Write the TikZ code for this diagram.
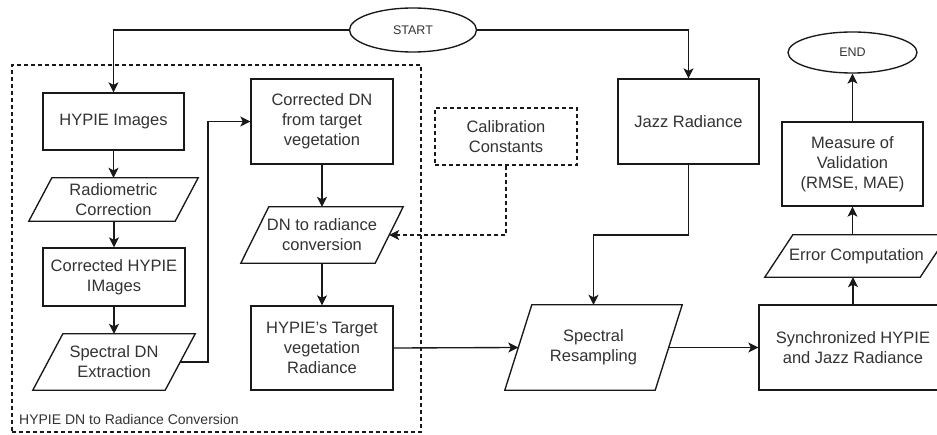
\documentclass[tikz,border=0pt]{standalone}
\usepackage{fontspec}
\setmainfont{Liberation Sans}
\usetikzlibrary{shapes.geometric,arrows.meta}
\newcommand\drawpara[2]{\draw[ln] ([xshift=#2]#1.north west) -- (#1.north east) -- ([xshift=-#2]#1.south east) -- (#1.south west) -- cycle;}
\begin{document}
\begin{tikzpicture}[x=1pt,y=-1pt,
  ln/.style={draw=black!90, line width=1.35pt},
  txt/.style={text=black!80, align=center, inner sep=0pt, font=\fontsize{16.5}{20}\selectfont},
  box/.style={txt, ln, rectangle},
  dbox/.style={box, line width=1.2pt, dash pattern=on 4pt off 3pt},
  pbox/.style={txt, rectangle},
  term/.style={txt, ln, ellipse, font=\fontsize{12.5}{15}\selectfont},
  arr/.style={ln, -{Stealth[length=10pt,width=10pt,inset=2.5pt]}},
  darr/.style={arr, line width=1.2pt, dash pattern=on 4pt off 3pt},
  grp/.style={draw=black!90, line width=1.2pt, dash pattern=on 4pt off 3pt, rectangle, inner sep=0pt}
]
\useasboundingbox[fill=white] (0,0) rectangle (937,435);

% group frame
\node[grp, minimum width=409pt, minimum height=367pt] (grp) at (216.5,248.5) {};
\node[txt, anchor=west, font=\fontsize{14}{16}\selectfont] (grplabel) at (19,419) {HYPIE DN to Radiance Conversion};

% terminals
\node[term, minimum width=127pt, minimum height=44pt] (start) at (413,30) {START};
\node[term, minimum width=129pt, minimum height=41pt] (end) at (852.5,52.5) {END};

% left column
\node[box, minimum width=141pt, minimum height=57pt] (hyp) at (113.5,121.5) {HYPIE Images};
\node[pbox, minimum width=169pt, minimum height=43pt] (rad) at (113.5,199.5) {Radiometric\\Correction};
\node[box, minimum width=142pt, minimum height=58pt] (chyp) at (114,277) {Corrected HYPIE\\IMages};
\node[pbox, minimum width=162pt, minimum height=56pt] (sdn) at (114,362) {Spectral DN\\Extraction};

% second column
\node[box, minimum width=142pt, minimum height=85pt] (cdn) at (322,121.5) {Corrected DN\\from target\\vegetation};
\node[pbox, minimum width=162pt, minimum height=56pt] (dnc) at (322,235) {DN to radiance\\conversion};
\node[box, minimum width=142pt, minimum height=84pt] (tgt) at (322,348) {HYPIE's Target\\vegetation\\Radiance};

% calibration
\node[dbox, minimum width=142pt, minimum height=57pt] (cal) at (506,136.5) {Calibration\\Constants};

% right part
\node[box, minimum width=141pt, minimum height=85pt] (jazz) at (688.5,121.5) {Jazz Radiance};
\node[pbox, minimum width=177pt, minimum height=85pt] (sres) at (593.5,347.5) {Spectral\\Resampling};
\node[box, minimum width=188pt, minimum height=85pt] (sync) at (853,347.5) {Synchronized HYPIE\\and Jazz Radiance};
\node[pbox, minimum width=183pt, minimum height=42pt] (err) at (856.5,256) {Error Computation};
\node[box, minimum width=141pt, minimum height=84pt] (meas) at (852.5,164) {Measure of\\Validation\\(RMSE, MAE)};

% parallelogram outlines
\drawpara{rad}{23pt}
\drawpara{sdn}{30pt}
\drawpara{dnc}{28pt}
\drawpara{sres}{27pt}
\drawpara{err}{28pt}

% connectors
\coordinate (kink) at (223,0);
\draw[arr] (start.west) -| (hyp.north);
\draw[arr] (start.east) -| (jazz.north);
\draw[arr] (hyp.south) -- (rad.north -| hyp.south);
\draw[arr] (rad.south -| chyp.north) -- (chyp.north);
\draw[arr] (chyp.south) -- (sdn.north);
\draw[arr] ([xshift=-15pt]sdn.east) -- ([xshift=-15pt]sdn.east -| kink) |- (cdn.west);
\draw[arr] (cdn.south) -- (dnc.north);
\draw[arr] (dnc.south) -- (tgt.north);
\draw[darr] (cal.south) |- ([xshift=-14pt]dnc.east);
\draw[arr] (jazz.south) -- (jazz.south |- dnc.east) -| (sres.north);
\draw[arr] (tgt.east) -- ([xshift=13.5pt]sres.west);
\draw[arr] ([xshift=-13.5pt]sres.east) -- (sync.west);
\draw[arr] (sync.north) -- (sync.north |- err.south);
\draw[arr] (meas.south |- err.north) -- (meas.south);
\draw[arr] (meas.north) -- (end.south);
\end{tikzpicture}
\end{document}
